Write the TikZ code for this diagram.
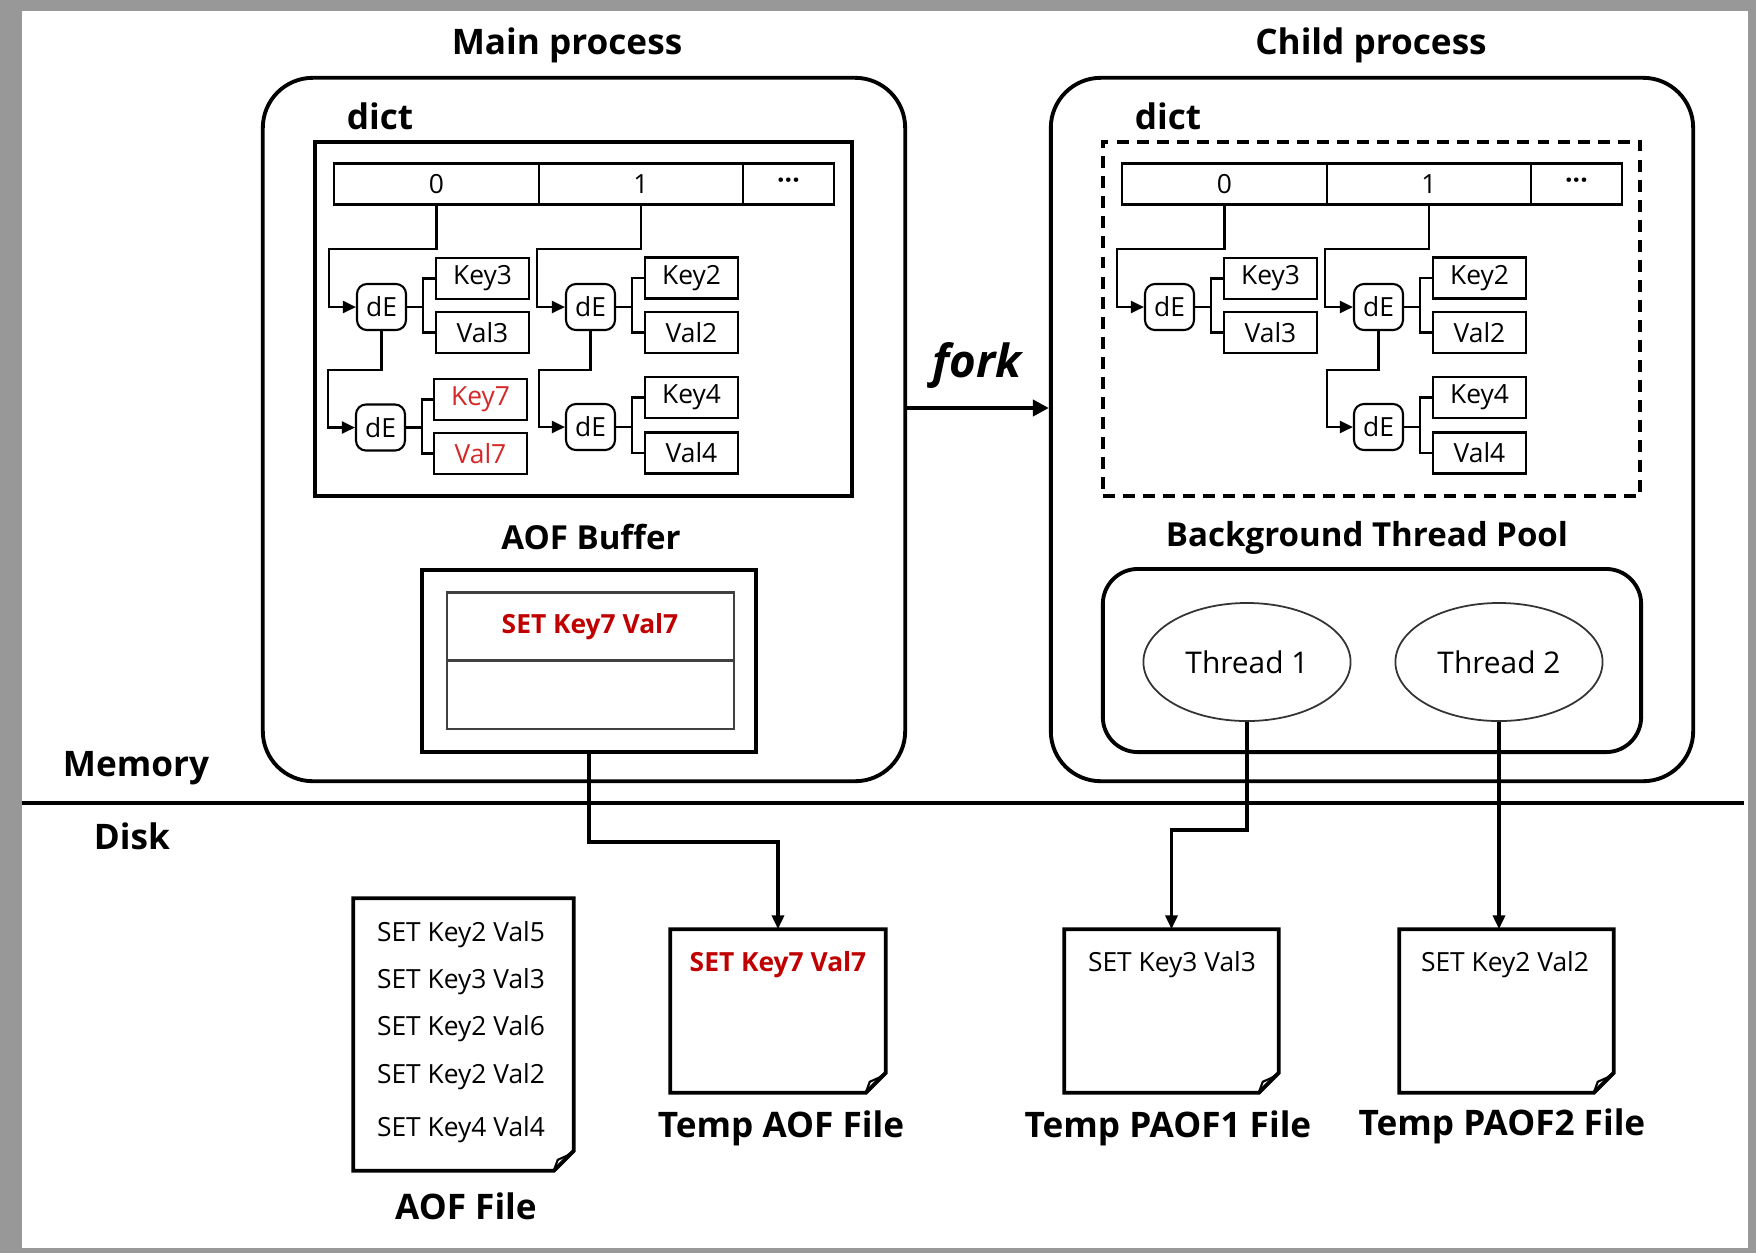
\documentclass[tikz,border=0pt]{standalone}
\usepackage{fontspec}
\setmainfont{Open Sans}
\usepackage{xcolor}
\usetikzlibrary{arrows.meta,shapes.geometric}
\definecolor{keyred}{RGB}{214,40,40}
\definecolor{cmdred}{RGB}{192,0,0}
\definecolor{framegray}{RGB}{152,152,152}

\begin{document}
\begin{tikzpicture}[x=0.01cm,y=-0.01cm,
  title/.style={font=\fontsize{10}{12}\selectfont\bfseries},
  subtitle/.style={font=\fontsize{9.4}{11}\selectfont\bfseries},
  small/.style={font=\fontsize{7.5}{9}\selectfont},
  cmd/.style={font=\fontsize{7.5}{9}\selectfont\bfseries,text=cmdred},
  procbox/.style={draw,line width=1.1pt,rounded corners=5mm,minimum width=64.2mm,minimum height=70.3mm},
  dictbox/.style={draw,line width=1.1pt,minimum width=53.7mm,minimum height=35.4mm},
  dictdash/.style={dash pattern=on 3.4pt off 2.3pt},
  cell/.style={draw,line width=0.6pt,minimum height=4.1mm,inner sep=0pt,small},
  kv/.style={draw,line width=0.6pt,minimum width=9.3mm,minimum height=4.1mm,inner sep=0pt,small},
  de/.style={draw,line width=0.6pt,rounded corners=1mm,minimum width=4.9mm,minimum height=4.6mm,inner sep=0pt,small},
  link/.style={line width=0.6pt},
  ptr/.style={line width=0.6pt,-{Triangle[length=1.3mm,width=1.2mm]}},
  wire/.style={line width=1.1pt,-{Triangle[length=1.4mm,width=1.2mm]}},
  thread/.style={ellipse,draw=black!80,line width=0.5pt,minimum width=19.8mm,minimum height=11.8mm,font=\fontsize{8.5}{10}\selectfont},
  filebox/.style={minimum height=16.2mm,inner sep=0pt}
]
\fill[framegray] (0,0) rectangle (1756,1253);
\fill[white] (22,11) rectangle (1748,1248);

\node[procbox] (main) at (584,429.5) {};
\node[procbox] (child) at (1372,429.5) {};
\node[title] (main-title) at (567,45) {Main process};
\node[title] (child-title) at (1371,45) {Child process};

\foreach \d/\s/\ls in {m/0/solid,c/788/dictdash}{
	\node[title] (\d-dict) at (\s+380,116) {dict};
	\node[dictbox,\ls] (\d-frame) at (\s+583.5,319) {};
	\node[cell,minimum width=20.5mm] (\d-b0) at (\s+436.5,184) {0};
	\node[cell,minimum width=20.4mm] (\d-b1) at (\s+641,184) {1};
	\node[cell,minimum width=9.1mm] (\d-b2) at (\s+788.5,184) {\textbf{···}};
	\node[de] (\d-de1) at (\s+381.5,307) {dE};
	\node[de] (\d-de3) at (\s+590.5,307) {dE};
	\node[de] (\d-de4) at (\s+590.5,427) {dE};
	\node[kv] (\d-k3) at (\s+482.5,278.5) {Key3};
	\node[kv] (\d-v3) at (\s+482.5,332.5) {Val3};
	\node[kv] (\d-k2) at (\s+691.5,278) {Key2};
	\node[kv] (\d-v2) at (\s+691.5,332.5) {Val2};
	\node[kv] (\d-k4) at (\s+691.5,397.5) {Key4};
	\node[kv] (\d-v4) at (\s+691.5,453) {Val4};
	\draw[ptr] (\d-b0.south) -- ++(0,43) -| ([xshift=-2.7mm]\d-de1.west) -- (\d-de1.west);
	\draw[ptr] (\d-b1.south) -- ++(0,43) -| ([xshift=-2.8mm]\d-de3.west) -- (\d-de3.west);
	\draw[ptr] (\d-de3.south) -- ++(0,39) -| ([xshift=-2.6mm]\d-de4.west) -- (\d-de4.west);
	\foreach \e/\k/\v in {de1/k3/v3,de3/k2/v2,de4/k4/v4}{
		\draw[link] (\d-\e.east) -- ++(16,0) |- (\d-\k.west);
		\draw[link] (\d-\e.east) ++(16,0) |- (\d-\v.west);
	}
}
\node[de] (m-de2) at (380.5,427.5) {dE};
\node[kv,text=keyred] (m-k7) at (480.5,399.5) {Key7};
\node[kv,text=keyred] (m-v7) at (480.5,453.5) {Val7};
\draw[ptr] (m-de1.south) -- ++(0,39) -| ([xshift=-2.7mm]m-de2.west) -- (m-de2.west);
\draw[link] (m-de2.east) -- ++(16,0) |- (m-k7.west);
\draw[link] (m-de2.east) ++(16,0) |- (m-v7.west);

\draw[line width=1.4pt,-{Triangle[length=1.6mm,width=1.6mm]}] ([yshift=2.15mm]main.east) -- ([yshift=2.15mm]child.west);
\node[font=\fontsize{13}{15}\selectfont\bfseries\itshape] (fork) at (977,365) {fork};

\node[subtitle] (buf-title) at (591,537) {AOF Buffer};
\node[draw,line width=1.1pt,minimum width=33.4mm,minimum height=18.2mm] (buf) at (589,661) {};
\node[draw=black!75,line width=0.6pt,minimum width=28.7mm,minimum height=13.6mm] (buf-in) at (590.5,660.5) {};
\draw[black!75,line width=0.6pt] (buf-in.west) -- (buf-in.east);
\node[cmd] (buf-cmd) at (590,627) {SET Key7 Val7};

\node[subtitle] (pool-title) at (1367,538) {Background Thread Pool};
\node[draw,line width=1.1pt,rounded corners=3.5mm,minimum width=53.8mm,minimum height=18.3mm] (pool) at (1372,660.5) {};
\node[thread] (t1) at (1247,662) {Thread~1};
\node[thread] (t2) at (1499,662) {Thread~2};

\draw[line width=1.2pt] (22,803) -- (1744,803);
\node[title] (mem) at (136,768) {Memory};
\node[title] (disk) at (132,836) {Disk};

\node[filebox,minimum width=21.9mm,minimum height=27.1mm] (aof) at (463.5,1034.5) {};
\node[filebox,minimum width=21.4mm] (tmp) at (778,1011) {};
\node[filebox,minimum width=21.3mm] (paof1) at (1171.5,1011) {};
\node[filebox,minimum width=21.3mm] (paof2) at (1506.5,1011) {};
\foreach \f in {aof,tmp,paof1,paof2}{
	\draw[line width=1.1pt] (\f.north west) -- (\f.north east) -- ([yshift=2mm]\f.south east) -- ([xshift=-2mm]\f.south east) -- (\f.south west) -- cycle;
	\draw[line width=0.6pt] ([xshift=-2mm]\f.south east) -- ([xshift=-1.6mm,yshift=1.1mm]\f.south east) -- ([xshift=-0.7mm,yshift=1.5mm]\f.south east) -- ([yshift=2mm]\f.south east);
}
\foreach \l/\y [count=\i] in {SET Key2 Val5/935,SET Key3 Val3/982,SET Key2 Val6/1029,SET Key2 Val2/1077,SET Key4 Val4/1130}
	\node[small] (aof-\i) at (461,\y) {\l};
\node[cmd] (tmp-cmd) at (778,965) {SET Key7 Val7};
\node[small] (paof1-cmd) at (1172,965) {SET Key3 Val3};
\node[small] (paof2-cmd) at (1505,965) {SET Key2 Val2};
\node[title] (aof-title) at (466,1206) {AOF File};
\node[title] (tmp-title) at (781,1128) {Temp AOF File};
\node[title] (paof1-title) at (1168,1128) {Temp PAOF1 File};
\node[title] (paof2-title) at (1502,1126) {Temp PAOF2 File};

\draw[wire] (buf.south) -- ++(0,88) -| (tmp.north);
\draw[wire] (t1.south) -- ++(0,108) -| (paof1.north);
\draw[wire] (t2.south) -- (t2.south |- paof2.north);
\end{tikzpicture}
\end{document}
